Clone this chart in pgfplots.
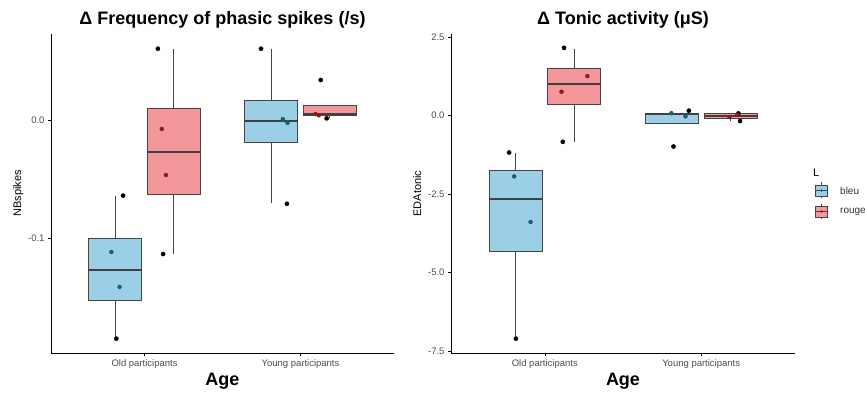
\documentclass[border=0pt]{standalone}
\usepackage{pgfplots}
\pgfplotsset{compat=1.18}
\usepgfplotslibrary{statistics}
\usepackage{fontspec}
\setmainfont{Liberation Sans}
\definecolor{bfill}{HTML}{9BCFE6}
\definecolor{rfill}{HTML}{F3979A}
\definecolor{bdark}{HTML}{1B5E7B}
\definecolor{rdark}{HTML}{8E1B1B}
\definecolor{edge}{HTML}{454545}
\definecolor{tickc}{HTML}{4D4D4D}
\pgfplotsset{
  panel/.style={
    scale only axis, height=319pt,
    xmin=0.4, xmax=2.6,
    axis x line*=bottom, axis y line*=left,
    axis line style={black, line width=0.8pt},
    xtick={1,2}, xticklabels={Old participants, Young participants},
    tick align=outside, major tick length=3pt,
    tick style={black, line width=0.6pt},
    ticklabel style={font=\fontsize{9.5}{10}\selectfont, text=tickc},
    boxplot/draw direction=y,
    boxplot/box extend=0.34,
    boxplot/whisker extend=0,
    boxplot/every median/.style={line width=2pt, draw=black!75},
    boxplot/every whisker/.style={line width=0.8pt, draw=edge},
    clip=false,
  },
  bbox/.style={draw=edge, line width=0.8pt, fill=#1},
  blk/.style={only marks, mark=*, mark size=2.1pt, color=black, mark options={fill=black}},
  dk/.style={only marks, mark=*, mark size=2.0pt, color=#1, mark options={fill=#1, draw=#1}},
}
\begin{document}
\begin{tikzpicture}[x=1pt,y=1pt]
\useasboundingbox (0,0) rectangle (865,392);
% ---------- left panel ----------
\begin{axis}[panel, at={(51pt,39pt)}, anchor=south west, width=343pt,
  ymin=-0.19746, ymax=0.07288,
  ytick={-0.1,0}, yticklabels={-0.1,0.0}]
\addplot[bbox=bfill, boxplot prepared={draw position=0.8125,
  lower whisker=-0.1853, lower quartile=-0.1528, median=-0.127,
  upper quartile=-0.100, upper whisker=-0.0641}] coordinates {};
\addplot[bbox=rfill, boxplot prepared={draw position=1.1875,
  lower whisker=-0.1136, lower quartile=-0.0633, median=-0.0269,
  upper quartile=0.0096, upper whisker=0.0602}] coordinates {};
\addplot[bbox=bfill, boxplot prepared={draw position=1.8125,
  lower whisker=-0.0701, lower quartile=-0.0192, median=-0.0006,
  upper quartile=0.0164, upper whisker=0.0602}] coordinates {};
\addplot[bbox=rfill, boxplot prepared={draw position=2.1875,
  lower whisker=0.0014, lower quartile=0.0036, median=0.0051,
  upper quartile=0.0121, upper whisker=0.0121}] coordinates {};
\addplot[blk] coordinates {(0.862,-0.0641) (0.819,-0.1853) (1.0855,0.0604) (1.119,-0.1136)
  (1.747,0.0604) (1.913,-0.071) (2.130,0.0339) (2.168,0.0014)};
\addplot[dk=bdark] coordinates {(0.787,-0.1119) (0.840,-0.1415) (1.887,0.0008) (1.917,-0.0023)};
\addplot[dk=rdark] coordinates {(1.111,-0.0076) (1.137,-0.0466) (2.096,0.005) (2.117,0.004)};
\end{axis}
% ---------- right panel ----------
\begin{axis}[panel, at={(451pt,39pt)}, anchor=south west, width=344pt,
  ymin=-7.557, ymax=2.59,
  ytick={-7.5,-5,-2.5,0,2.5}, yticklabels={-7.5,-5.0,-2.5,0.0,2.5}]
\addplot[bbox=bfill, boxplot prepared={draw position=0.8125,
  lower whisker=-7.10, lower quartile=-4.31, median=-2.66,
  upper quartile=-1.75, upper whisker=-1.18}] coordinates {};
\addplot[bbox=rfill, boxplot prepared={draw position=1.1875,
  lower whisker=-0.84, lower quartile=0.363, median=1.0,
  upper quartile=1.48, upper whisker=2.12}] coordinates {};
\addplot[bbox=bfill, boxplot prepared={draw position=1.8125,
  lower whisker=-0.264, lower quartile=-0.264, median=0.03,
  upper quartile=0.076, upper whisker=0.15}] coordinates {};
\addplot[bbox=rfill, boxplot prepared={draw position=2.1875,
  lower whisker=-0.18, lower quartile=-0.105, median=-0.02,
  upper quartile=0.054, upper whisker=0.064}] coordinates {};
\addplot[blk] coordinates {(0.772,-1.18) (0.815,-7.10) (1.123,2.15) (1.115,-0.84)
  (1.823,-0.99) (1.921,0.15) (2.238,0.064) (2.249,-0.18)};
\addplot[dk=bdark] coordinates {(0.804,-1.94) (0.909,-3.39) (1.809,0.07) (1.900,-0.03)};
\addplot[dk=rdark] coordinates {(1.107,0.755) (1.272,1.25) (2.181,-0.05) (2.230,0.02)};
\end{axis}
% ---------- texts ----------
\node[anchor=base, font=\bfseries\fontsize{18}{20}\selectfont] at (222.5,367.5) {Δ Frequency of phasic spikes (/s)};
\node[anchor=base, font=\bfseries\fontsize{18}{20}\selectfont] at (623,367.5) {Δ Tonic activity (μS)};
\node[anchor=base, font=\bfseries\fontsize{18}{20}\selectfont] at (222.5,7) {Age};
\node[anchor=base, font=\bfseries\fontsize{18}{20}\selectfont] at (623,7) {Age};
\node[anchor=base, rotate=90, font=\fontsize{11}{12}\selectfont] at (21.2,198.5) {NBspikes};
\node[anchor=base, rotate=90, font=\fontsize{11}{12}\selectfont] at (421.2,198.5) {EDAtonic};
% ---------- legend ----------
\node[anchor=west, font=\fontsize{11}{12}\selectfont, inner sep=0pt] at (813,219) {L};
\draw[edge, line width=0.6pt] (821.5,194) -- (821.5,210);
\draw[edge, line width=0.6pt, fill=bfill] (815.5,196) rectangle (827.5,207);
\draw[edge, line width=1.2pt] (815.5,201.5) -- (827.5,201.5);
\fill[bdark] (821.5,201.5) circle (1.4);
\draw[edge, line width=0.6pt] (821.5,173) -- (821.5,188);
\draw[edge, line width=0.6pt, fill=rfill] (815.5,175) rectangle (827.5,186);
\draw[edge, line width=1.2pt] (815.5,180.5) -- (827.5,180.5);
\fill[rdark] (821.5,180.5) circle (1.4);
\node[anchor=west, font=\fontsize{10}{12}\selectfont, text=black!80, inner sep=0pt] at (840,201.5) {bleu};
\node[anchor=west, font=\fontsize{10}{12}\selectfont, text=black!80, inner sep=0pt] at (840,180.5) {rouge};
\end{tikzpicture}
\end{document}
